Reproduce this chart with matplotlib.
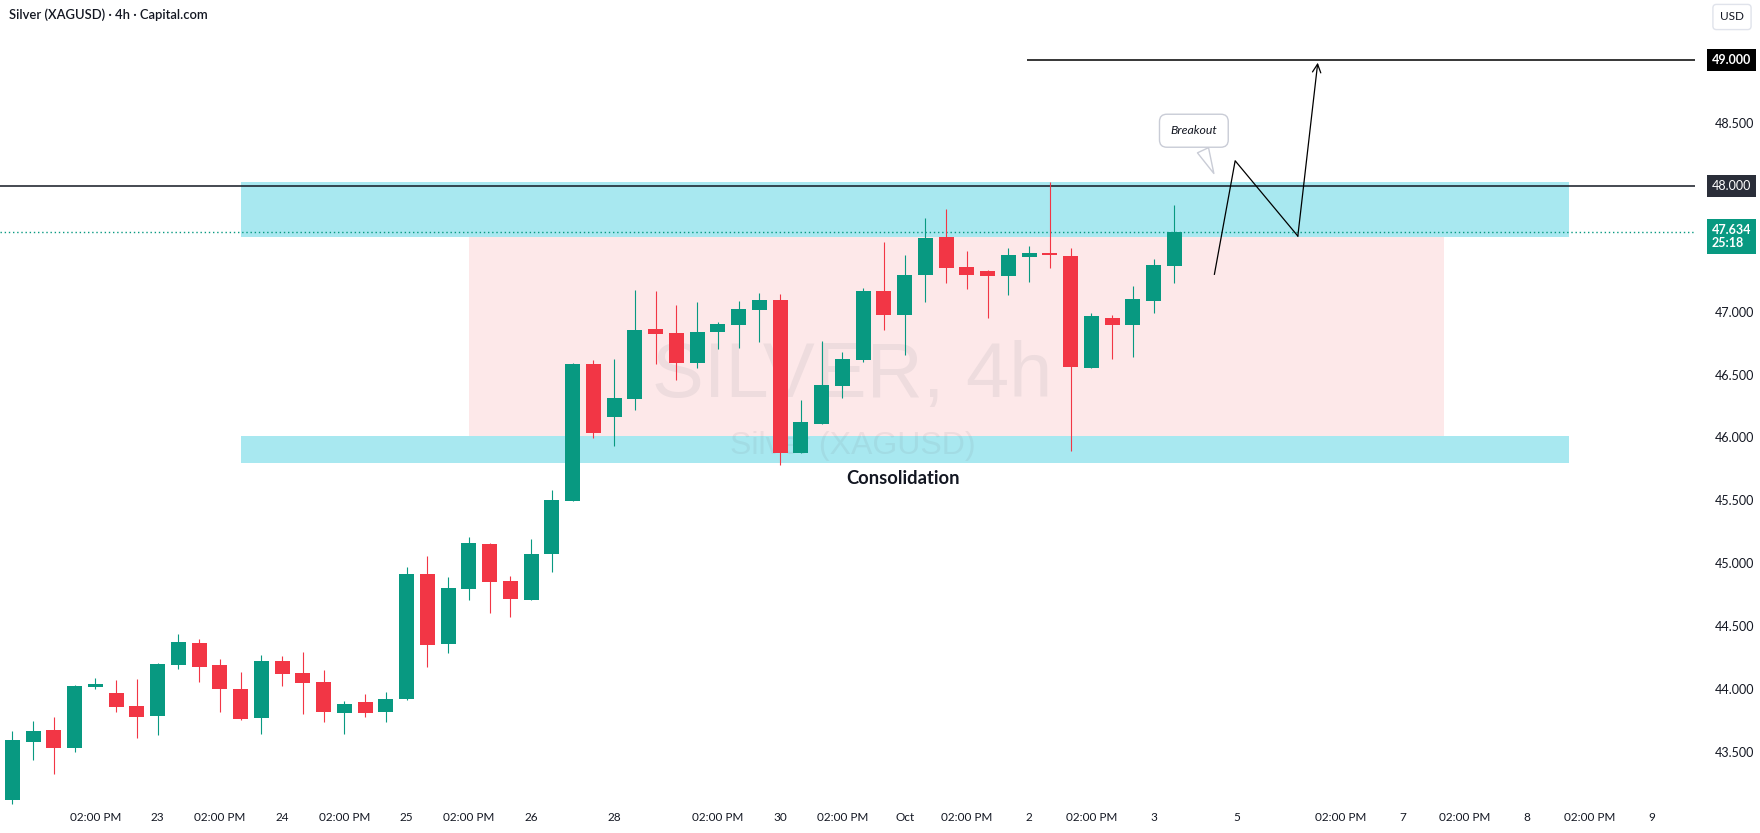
import matplotlib
matplotlib.use('Agg')
from matplotlib import pyplot as plt
from matplotlib.transforms import blended_transform_factory
from matplotlib.patches import Rectangle

# 4h candles, left to right
opens = [43.115, 43.577, 43.672, 43.531, 44.017, 43.967, 43.863, 43.786, 44.192, 44.364,
         44.189, 43.998, 43.770, 44.221, 44.126, 44.054, 43.810, 43.895, 43.818, 43.921,
         44.913, 44.359, 44.796, 45.152, 44.858, 44.709, 45.075, 45.494, 46.584, 46.165,
         46.308, 46.862, 46.831, 46.592, 46.839, 46.894, 47.014, 47.093, 45.878, 46.109,
         46.411, 46.618, 47.165, 46.976, 47.294, 47.594, 47.356, 47.324, 47.286, 47.438,
         47.467, 47.443, 46.555, 46.950, 46.897, 47.088, 47.366]
highs = [43.664, 43.744, 43.776, 44.030, 44.086, 44.070, 44.078, 44.205, 44.436, 44.396,
         44.237, 44.134, 44.269, 44.261, 44.293, 44.150, 43.903, 43.959, 43.974, 44.971,
         45.056, 44.889, 45.208, 45.160, 44.897, 45.192, 45.582, 46.592, 46.616, 46.624,
         47.173, 47.165, 47.053, 47.077, 46.918, 47.085, 47.149, 47.141, 46.298, 46.767,
         46.679, 47.189, 47.555, 47.451, 47.745, 47.817, 47.483, 47.332, 47.507, 47.523,
         48.032, 47.507, 46.990, 46.974, 47.204, 47.419, 47.849]
lows = [43.083, 43.434, 43.323, 43.500, 43.998, 43.815, 43.609, 43.635, 44.160, 44.057,
        43.818, 43.752, 43.643, 44.025, 43.802, 43.738, 43.643, 43.778, 43.738, 43.911,
        44.176, 44.287, 44.709, 44.605, 44.574, 44.709, 44.932, 45.494, 45.998, 45.934,
        46.220, 46.584, 46.459, 46.552, 46.703, 46.714, 46.761, 45.783, 45.878, 46.109,
        46.316, 46.602, 46.857, 46.658, 47.080, 47.231, 47.183, 46.952, 47.135, 47.239,
        47.350, 45.894, 46.555, 46.626, 46.642, 46.992, 47.231]
closes = [43.593, 43.664, 43.531, 44.022, 44.038, 43.858, 43.778, 44.197, 44.372, 44.176,
          44.001, 43.762, 44.221, 44.120, 44.049, 43.818, 43.879, 43.810, 43.919, 44.913,
          44.351, 44.802, 45.160, 44.852, 44.717, 45.072, 45.502, 46.584, 46.035, 46.313,
          46.854, 46.825, 46.592, 46.839, 46.902, 47.021, 47.093, 45.878, 46.123, 46.417,
          46.624, 47.165, 46.976, 47.292, 47.586, 47.350, 47.294, 47.286, 47.451, 47.467,
          47.453, 46.562, 46.966, 46.897, 47.101, 47.372, 47.634]

time_ticks = [4, 7, 10, 13, 16, 19, 22, 25, 29, 34, 37, 40, 43, 46, 49, 52, 55, 59,
              64, 67, 70, 73, 76, 79]
time_labels = ['02:00 PM', '23', '02:00 PM', '24', '02:00 PM', '25', '02:00 PM', '26',
               '28', '02:00 PM', '30', '02:00 PM', 'Oct', '02:00 PM', '2', '02:00 PM',
               '3', '5', '02:00 PM', '7', '02:00 PM', '8', '02:00 PM', '9']
price_ticks = [43.5, 44.0, 44.5, 45.0, 45.5, 46.0, 46.5, 47.0, 48.5]

resistance = 48.0
target = 49.0
last_price = 47.634
countdown = '25:18'
upper_zone = [47.597, 48.032]
lower_zone = [45.799, 46.011]
zone_span = [11, 75]
range_span = [22, 69]
path_x = [57.93, 58.93, 61.95, 62.91]
path_y = [47.298, 48.201, 47.602, 48.981]
target_from = 48.9

UP = '#089981'
DOWN = '#f23645'
INK = '#131722'
FONT = ['Lato', 'DejaVu Sans']
plt.rcParams['font.family'] = FONT

fig = plt.figure(figsize=(17.6, 8.33), dpi=100)
fig.patch.set_facecolor('white')
ax = fig.add_axes([0, 1 - 805 / 833, 1695 / 1760, 805 / 833])
ax.set_xlim(-0.593, 81.09)
ax.set_ylim(43.076, 49.48)
for s in ax.spines.values():
    s.set_visible(False)

# zones
ax.add_patch(Rectangle((range_span[0], lower_zone[1]), range_span[1] - range_span[0],
                       upper_zone[0] - lower_zone[1], fc='#fde8e9', ec='none', zorder=0.5))
for lo, hi in [upper_zone, lower_zone]:
    ax.add_patch(Rectangle((zone_span[0], lo), zone_span[1] - zone_span[0], hi - lo,
                           fc='#a8e8f0', ec='none', zorder=0.5))

# watermark
ax.text(40.45, 46.488, 'SILVER, 4h', fontsize=56, color='#787b86', alpha=0.11,
        ha='center', va='center', family=['Liberation Sans', 'DejaVu Sans'], zorder=0.8)
ax.text(40.5, 45.93, 'Silver (XAGUSD)', fontsize=23, color='#787b86', alpha=0.11,
        ha='center', va='center', family=['Liberation Sans', 'DejaVu Sans'], zorder=0.8)

# levels
ax.axhline(resistance, color=INK, lw=1.1, zorder=1.5)
ax.hlines(target, target_from, 200, color='black', lw=1.1, zorder=1.5)
ax.axhline(last_price, color=UP, lw=1, linestyle=(0, (1, 2)), zorder=1.5)

# candles
xs = list(range(len(opens)))
colors = [UP if c >= o else DOWN for o, c in zip(opens, closes)]
ax.vlines(xs, lows, highs, colors=colors, lw=0.8, zorder=2)
bottoms = [min(o, c) for o, c in zip(opens, closes)]
heights = [max(abs(c - o), 0.01) for o, c in zip(opens, closes)]
ax.bar(xs, heights, bottom=bottoms, width=0.72, color=colors, zorder=2.1)

# projected path
ax.plot(path_x[:3], path_y[:3], color='black', lw=0.9, zorder=3)
ax.annotate('', xy=(path_x[3], path_y[3]), xytext=(path_x[2], path_y[2]),
            arrowprops=dict(arrowstyle='->,head_length=0.6,head_width=0.3', color='black',
                            lw=0.9, shrinkA=0, shrinkB=0), zorder=3)

ax.annotate('Breakout', xy=(57.96, 48.08), xytext=(56.94, 48.44), fontsize=8.8,
            style='italic', color=INK, ha='center', va='center', zorder=4,
            bbox=dict(boxstyle='round,pad=0.9,rounding_size=0.6', fc='white', ec='#c9ccd6', lw=1),
            arrowprops=dict(arrowstyle='wedge,tail_width=1.0,shrink_factor=0.5', fc='white',
                            ec='#c9ccd6', lw=1))

ax.text(42.93, 45.677, 'Consolidation', fontsize=13.2, weight='bold', color=INK,
        ha='center', va='center', zorder=4)

# axes
ax.set_xticks(time_ticks, time_labels)
ax.yaxis.tick_right()
ax.set_yticks(price_ticks, ['%.3f' % p for p in price_ticks])
ax.tick_params(axis='x', length=0, pad=5, labelsize=8.5, labelcolor=INK)
ax.tick_params(axis='y', length=0, pad=14, labelsize=9, labelcolor=INK)

trans = blended_transform_factory(ax.transAxes, ax.transData)
box_kw = dict(xycoords=trans, textcoords='offset points', ha='left', fontsize=9,
              color='white', annotation_clip=False)
ax.annotate('%.3f' % target, xy=(1, target), xytext=(12, 0), va='center', weight='bold',
            bbox=dict(boxstyle='square,pad=0.4', fc='black', ec='none'), **box_kw)
ax.annotate('%.3f' % resistance, xy=(1, resistance), xytext=(12, 0), va='center',
            bbox=dict(boxstyle='square,pad=0.4', fc='#2a2e39', ec='none'), **box_kw)
ax.annotate('%.3f\n%s' % (last_price, countdown), xy=(1, last_price), xytext=(12, 5.5),
            va='top', weight='bold', linespacing=1.05,
            bbox=dict(boxstyle='square,pad=0.4', fc=UP, ec='none'), **box_kw)

fig.text(9 / 1760, 1 - 15 / 833, 'Silver (XAGUSD) · 4h · Capital.com', fontsize=9.4,
         weight='semibold', color=INK, ha='left', va='center')
fig.text(1732 / 1760, 1 - 17 / 833, 'USD', fontsize=8.5, color=INK, ha='center', va='center',
         bbox=dict(boxstyle='round,pad=0.6,rounding_size=0.3', fc='white', ec='#e0e3eb'))

fig.savefig('out.png', dpi=100, facecolor='white')
